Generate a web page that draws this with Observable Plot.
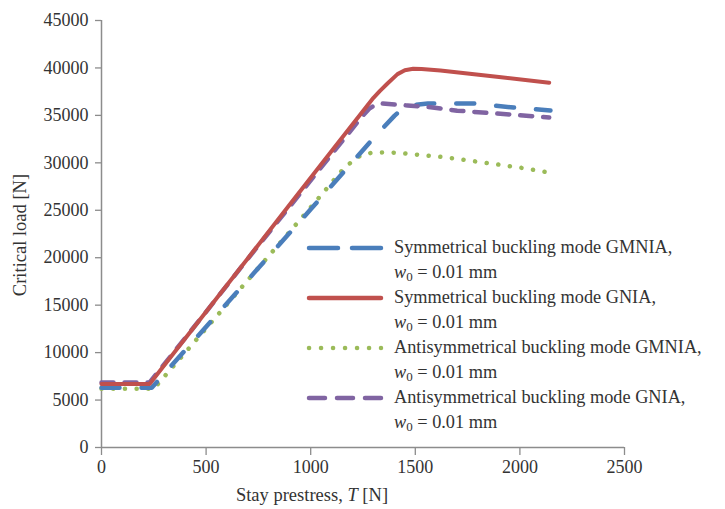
<!DOCTYPE html>
<html>
<head>
<meta charset="utf-8">
<script src="https://cdn.jsdelivr.net/npm/d3@7"></script>
<script src="https://cdn.jsdelivr.net/npm/@observablehq/plot@0.6"></script>
<style>
  html, body { margin: 0; padding: 0; background: #fff; }
  #wrap { position: relative; width: 725px; height: 509px; font-family: "Liberation Serif", "DejaVu Serif", serif; color: #333; }
  #wrap svg { display: block; }
  .ylab { position: absolute; left: 20px; top: 235px; transform: translate(-50%, -50%) rotate(-90deg); font-size: 18.5px; white-space: nowrap; color: #333; }
  .xlab { position: absolute; left: 312px; top: 495px; transform: translate(-50%, -50%); font-size: 18.5px; white-space: nowrap; color: #333; }
  #legend { position: absolute; left: 305px; top: 235px; font-size: 18.3px; color: #333; }
  .row { display: flex; align-items: center; height: 25px; white-space: nowrap; }
  .row svg { width: 80px; height: 10px; margin-right: 9px; flex: none; }
  .row.sub { padding-left: 89px; }
  sub { font-size: 13px; vertical-align: -3px; line-height: 0; }
</style>
</head>
<body>
<div id="wrap"></div>
<script>
// Stay prestress T [N] and critical load [N] for each series
const symGMNIA_T    = [0, 100, 240, 400, 600, 800, 1000, 1200, 1300, 1400, 1440, 1480, 1560, 1780, 1970, 2146];
const symGMNIA_load = [6300, 6300, 6300, 10250, 15200, 20150, 25100, 30100, 32600, 34950, 35750, 36050, 36250, 36250, 35830, 35520];

const symGNIA_T    = [0, 100, 230, 500, 700, 900, 1100, 1300, 1330, 1367, 1415, 1450, 1490, 1530, 1620, 1900, 2140];
const symGNIA_load = [6700, 6700, 6700, 14300, 19950, 25600, 31250, 36850, 37550, 38360, 39350, 39750, 39920, 39900, 39730, 39050, 38450];

const antiGMNIA_T    = [0, 100, 250, 400, 600, 800, 1000, 1150, 1200, 1240, 1290, 1360, 1420, 1500, 1653, 1860, 2000, 2138];
const antiGMNIA_load = [6200, 6200, 6200, 10000, 15100, 20200, 25300, 29200, 30200, 30800, 31050, 31100, 31050, 30880, 30560, 29930, 29500, 28980];

const antiGNIA_T    = [0, 100, 230, 500, 700, 900, 1100, 1250, 1280, 1310, 1340, 1463, 1560, 1700, 1955, 2084, 2140];
const antiGNIA_load = [6850, 6850, 6850, 14300, 19900, 25400, 30900, 35000, 35700, 36150, 36250, 36040, 35900, 35500, 35090, 34880, 34780];

const seriesNames = [
  "Symmetrical buckling mode GMNIA,",
  "Symmetrical buckling mode GNIA,",
  "Antisymmetrical buckling mode GMNIA,",
  "Antisymmetrical buckling mode GNIA,"
];
const seriesColors = ["#4a7ebb", "#c0504d", "#9bbb59", "#8064a2"];
const xTicks = [0, 500, 1000, 1500, 2000, 2500];
const yTicks = [0, 5000, 10000, 15000, 20000, 25000, 30000, 35000, 40000, 45000];

const toRows = (T, L) => T.map((t, i) => ({T: t, load: L[i]}));
const series = [
  {rows: toRows(symGMNIA_T, symGMNIA_load), dash: "18 22", w: 4.5},
  {rows: toRows(symGNIA_T, symGNIA_load), dash: null, w: 4},
  {rows: toRows(antiGMNIA_T, antiGMNIA_load), dash: "0.1 11.6", w: 4.5},
  {rows: toRows(antiGNIA_T, antiGNIA_load), dash: "12 11", w: 4.5}
];
const order = [2, 0, 3, 1]; // drawing order

const axisColor = "#8c8c8c";
const marks = [
  Plot.ruleX([0], {stroke: axisColor, strokeWidth: 1.5}),
  Plot.ruleY([0], {stroke: axisColor, strokeWidth: 1.5}),
  Plot.axisX(xTicks, {tickSize: 8, tickPadding: 5, stroke: axisColor, strokeWidth: 1.3, fill: "#333", label: null, fontSize: 18, tickFormat: d => String(d)}),
  Plot.axisY(yTicks, {tickSize: 6, tickPadding: 7, stroke: axisColor, strokeWidth: 1.3, fill: "#333", label: null, fontSize: 18, tickFormat: d => String(d)})
];
for (const i of order) {
  const s = series[i];
  const opts = {x: "T", y: "load", stroke: seriesColors[i], strokeWidth: s.w, strokeLinecap: "round", strokeLinejoin: "round", curve: "linear"};
  if (s.dash) opts.strokeDasharray = s.dash;
  marks.push(Plot.line(s.rows, opts));
}

const chart = Plot.plot({
  width: 725,
  height: 509,
  marginLeft: 101,
  marginRight: 101,
  marginTop: 20,
  marginBottom: 62,
  style: {fontFamily: "Liberation Serif, serif", fontSize: "18px", background: "#fff", overflow: "visible"},
  x: {domain: [0, 2500], axis: null},
  y: {domain: [0, 45000], axis: null},
  marks
});

const wrap = document.getElementById("wrap");
wrap.appendChild(chart);

const ylab = document.createElement("div");
ylab.className = "ylab";
ylab.textContent = "Critical load [N]";
wrap.appendChild(ylab);

const xlab = document.createElement("div");
xlab.className = "xlab";
xlab.innerHTML = "Stay prestress, <i>T</i> [N]";
wrap.appendChild(xlab);

const legend = document.createElement("div");
legend.id = "legend";
const legendDash = [
  {dash: "29 14", w: 4.5},
  {dash: null, w: 4.5},
  {dash: "0.1 11.9", w: 4.5},
  {dash: "16 12", w: 4.5}
];
seriesNames.forEach((name, i) => {
  const r1 = document.createElement("div");
  r1.className = "row";
  const d = legendDash[i];
  r1.innerHTML = `<svg viewBox="0 0 80 10"><line x1="4" x2="76" y1="5" y2="5" stroke="${seriesColors[i]}" stroke-width="${d.w}" stroke-linecap="round" ${d.dash ? `stroke-dasharray="${d.dash}"` : ""}/></svg><span>${name}</span>`;
  const r2 = document.createElement("div");
  r2.className = "row sub";
  r2.innerHTML = `<span><i>w</i><sub>0</sub> = 0.01 mm</span>`;
  legend.appendChild(r1);
  legend.appendChild(r2);
});
wrap.appendChild(legend);
</script>
</body>
</html>
